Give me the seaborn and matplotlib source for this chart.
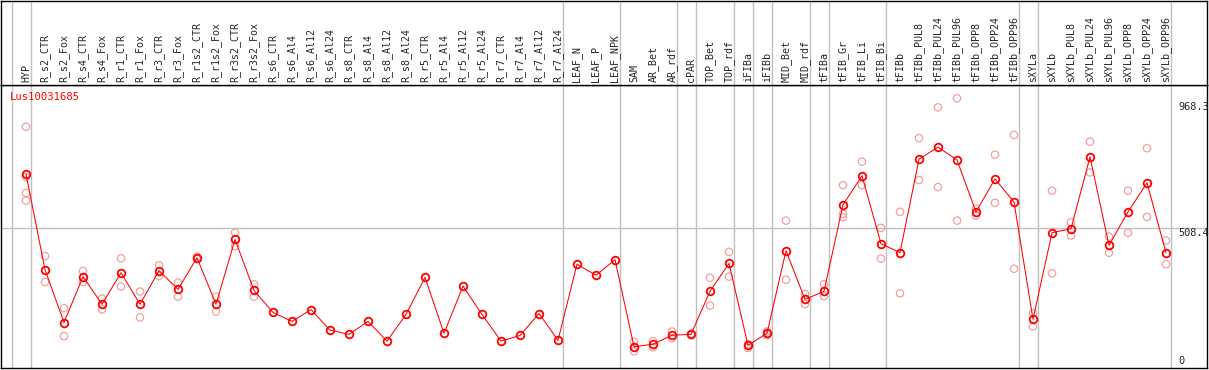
import matplotlib
matplotlib.use("Agg")
import matplotlib.pyplot as plt
import seaborn as sns
import pandas as pd

# sample columns, left to right
samples = [
    "HYP", "R_s2_CTR", "R_s2_Fox", "R_s4_CTR", "R_s4_Fox", "R_r1_CTR", "R_r1_Fox",
    "R_r3_CTR", "R_r3_Fox", "R_r1s2_CTR", "R_r1s2_Fox", "R_r3s2_CTR", "R_r3s2_Fox",
    "R_s6_CTR", "R_s6_Al4", "R_s6_Al12", "R_s6_Al24", "R_s8_CTR", "R_s8_Al4",
    "R_s8_Al12", "R_s8_Al24", "R_r5_CTR", "R_r5_Al4", "R_r5_Al12", "R_r5_Al24",
    "R_r7_CTR", "R_r7_Al4", "R_r7_Al12", "R_r7_Al24", "LEAF_N", "LEAF_P", "LEAF_NPK",
    "SAM", "AR_Bet", "AR_rdf", "cPAR", "TOP_Bet", "TOP_rdf", "iFIBa", "iFIBb",
    "MID_Bet", "MID_rdf", "tFIBa", "tFIB_Gr", "tFIB_Li", "tFIB_Bi", "tFIBb",
    "tFIBb_PUL8", "tFIBb_PUL24", "tFIBb_PUL96", "tFIBb_OPP8", "tFIBb_OPP24",
    "tFIBb_OPP96", "sXYLa", "sXYLb", "sXYLb_PUL8", "sXYLb_PUL24", "sXYLb_PUL96",
    "sXYLb_OPP8", "sXYLb_OPP24", "sXYLb_OPP96",
]

# mean expression per sample
means = [
    699, 360, 172, 335, 237, 349, 237, 356, 290, 402, 237, 467, 286,
    208, 176, 218, 145, 130, 176, 106, 201, 332, 134, 301, 201,
    106, 126, 204, 109, 379, 340, 395,
    86, 95, 127, 130, 283, 382, 91, 134, 427, 254, 283,
    590, 693, 452, 420, 752, 795, 749, 565, 682, 600,
    184, 491, 505, 760, 446, 565, 668, 420,
]

# individual replicates per sample
replicates = [
    [867, 689, 632, 605], [408, 316], [223, 124], [355, 316], [257, 219],
    [400, 300], [282, 190], [375, 337], [314, 264], [398, 406], [264, 211],
    [491, 443], [308, 264],
    [], [], [], [], [], [], [], [], [], [], [], [], [], [], [], [], [], [], [],
    [104, 70], [106, 84], [140, 116], [132, 127], [331, 232], [423, 335],
    [95, 82], [127, 140], [534, 324], [273, 238], [308, 266],
    [660, 558, 546], [743, 660], [508, 399], [565, 276],
    [827, 678], [936, 653], [968, 534], [576, 552], [768, 597], [838, 363],
    [205, 158], [640, 347], [528, 481], [814, 705], [477, 420],
    [640, 491], [791, 547], [463, 379],
]

# group separators: line drawn just right of these columns
separators = [-1, 0, 28, 31, 34, 35, 37, 38, 39, 41, 42, 45, 52, 53, 60]

gene_id = "Lus10031685"
axis_values = [968.3, 508.4, 0]

mean_df = pd.DataFrame({"pos": range(len(samples)), "value": means})
rep_rows = [(i, v) for i, reps in enumerate(replicates) for v in reps]
rep_df = pd.DataFrame(rep_rows, columns=["pos", "value"])

sns.set_style("white")
plt.rcParams["font.family"] = ["DejaVu Sans Mono"]

W, H = 1209, 370
fig = plt.figure(figsize=(W / 100, H / 100), dpi=100)
ax = fig.add_axes([1 / W, 2 / H, 1206 / W, 283 / H])
hdr = fig.add_axes([1 / W, 285 / H, 1206 / W, 84.5 / H], sharex=ax)

xmin = -25 / 19
ax.set_xlim(xmin, xmin + 1206 / 19)
ax.set_ylim(10.6, 1015.4)

gray = "#c0c0c0"
for s in separators:
    ax.axvline(s + 4.5 / 19, color=gray, lw=1.0, zorder=0)
    hdr.axvline(s + 4.5 / 19, color=gray, lw=1.0, zorder=0)
ax.axhline(axis_values[1], color=gray, lw=1.0, zorder=0)

sns.scatterplot(data=rep_df, x="pos", y="value", ax=ax, marker="o",
                facecolor="none", edgecolor="#f2a0a0", linewidth=0.9,
                s=28, zorder=2, legend=False)
sns.lineplot(data=mean_df, x="pos", y="value", ax=ax, color="red", lw=0.75,
             marker="o", markersize=5.5, markerfacecolor="none",
             markeredgecolor="red", markeredgewidth=1.3, zorder=3)

ax.text(0.007, 0.975, gene_id, transform=ax.transAxes, color="red",
        fontsize=7.6, va="top", ha="left")

ax.annotate(f"{axis_values[0]}", xy=(0.9765, axis_values[0]),
            xycoords=("axes fraction", "data"), xytext=(0, -3),
            textcoords="offset points", va="top", ha="left", fontsize=7.4)
ax.annotate(f"{axis_values[1]}", xy=(0.9765, axis_values[1]),
            xycoords=("axes fraction", "data"), xytext=(0, 0),
            textcoords="offset points", va="top", ha="left", fontsize=7.4)
ax.annotate(f"{axis_values[2]:g}", xy=(0.9765, 0),
            xycoords=("axes fraction", "axes fraction"), xytext=(0, 1.5),
            textcoords="offset points", va="bottom", ha="left", fontsize=7.4)

for i, name in enumerate(samples):
    hdr.text(i, 0.035, name, rotation=90, ha="center", va="bottom",
             fontsize=7.2, transform=hdr.get_xaxis_transform())

for a in (ax, hdr):
    a.set_xticks([])
    a.set_yticks([])
    a.set_xlabel("")
    a.set_ylabel("")
    for sp in a.spines.values():
        sp.set_color("black")
        sp.set_linewidth(1.0)
        sp.set_visible(True)
hdr.set_ylim(0, 1)

fig.savefig("out.png", dpi=100)
